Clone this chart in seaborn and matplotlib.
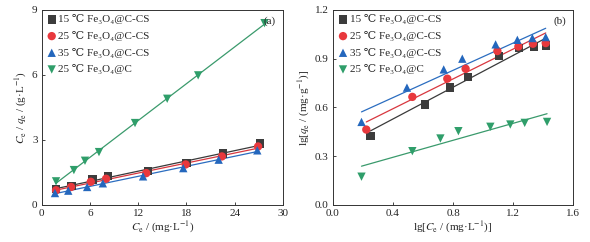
import numpy as np
import pandas as pd
import seaborn as sns
import matplotlib
matplotlib.use("Agg")
import matplotlib.pyplot as plt

sns.set_theme(style="ticks")
plt.rcParams['font.family'] = ['Liberation Serif', 'DejaVu Serif']
plt.rcParams['mathtext.fontset'] = 'stix'
plt.rcParams['xtick.direction'] = 'in'
plt.rcParams['ytick.direction'] = 'in'

series = ["15 ℃ Fe₃O₄@C-CS", "25 ℃ Fe₃O₄@C-CS",
          "35 ℃ Fe₃O₄@C-CS", "25 ℃ Fe₃O₄@C"]
colors = ["#3c3c3c", "#e8383d", "#2467bd", "#2f9e6a"]
line_colors = ["#3a3a3a", "#d8373f", "#2b6dc0", "#3a9a6c"]
markers = ["s", "o", "^", "v"]

# Panel (a): Ce vs Ce/qe
ce_15 = [1.78, 3.72, 6.33, 8.27, 13.2, 18.0, 22.5, 27.1]
cq_15 = [0.74, 0.89, 1.17, 1.35, 1.58, 1.94, 2.37, 2.83]
ce_25 = [1.78, 3.65, 6.1, 8.0, 13.0, 17.9, 22.4, 26.9]
cq_25 = [0.68, 0.83, 1.07, 1.21, 1.47, 1.87, 2.24, 2.70]
ce_35 = [1.65, 3.3, 5.65, 7.6, 12.6, 17.6, 22.0, 26.8]
cq_35 = [0.55, 0.66, 0.83, 1.00, 1.32, 1.70, 2.09, 2.52]
ce_c = [1.78, 4.0, 5.38, 7.12, 11.6, 15.6, 19.45, 27.7]
cq_c = [1.09, 1.61, 2.04, 2.44, 3.78, 4.90, 5.98, 8.39]

# Panel (b): lgCe vs lgqe
lgce_15 = [0.249, 0.613, 0.782, 0.90, 1.107, 1.24, 1.338, 1.422]
lgqe_15 = [0.423, 0.618, 0.722, 0.789, 0.918, 0.965, 0.971, 0.982]
lgce_25 = [0.222, 0.529, 0.762, 0.884, 1.096, 1.236, 1.333, 1.418]
lgqe_25 = [0.464, 0.665, 0.777, 0.838, 0.947, 0.975, 0.992, 0.996]
lgce_35 = [0.19, 0.493, 0.738, 0.862, 1.084, 1.229, 1.329, 1.418]
lgqe_35 = [0.511, 0.722, 0.834, 0.90, 0.988, 1.016, 1.027, 1.033]
lgce_c = [0.19, 0.529, 0.716, 0.836, 1.049, 1.182, 1.278, 1.427]
lgqe_c = [0.174, 0.331, 0.409, 0.454, 0.481, 0.495, 0.505, 0.511]

# Freundlich fit parameters (slope = 1/n, intercept = lgKf) as drawn
fit_slope = [0.488, 0.458, 0.419, 0.261]
fit_intercept = [0.334, 0.409, 0.493, 0.189]
fit_xmin = [0.249, 0.222, 0.19, 0.19]
fit_xmax = [1.422, 1.418, 1.418, 1.427]

xa = [ce_15, ce_25, ce_35, ce_c]
ya = [cq_15, cq_25, cq_35, cq_c]
xb = [lgce_15, lgce_25, lgce_35, lgce_c]
yb = [lgqe_15, lgqe_25, lgqe_35, lgqe_c]

fig = plt.figure(figsize=(5.9, 2.42), dpi=100)
ax1 = fig.add_axes([0.0707, 0.153, 0.409, 0.806])
ax2 = fig.add_axes([0.5644, 0.153, 0.4068, 0.806])

for i in range(4):
    df = pd.DataFrame({"x": xa[i], "y": ya[i]})
    sns.regplot(data=df, x="x", y="y", ax=ax1, ci=None, scatter=False,
                truncate=True, line_kws=dict(color=line_colors[i], lw=0.9))
for i in range(4):
    df = pd.DataFrame({"x": xa[i], "y": ya[i]})
    sns.scatterplot(data=df, x="x", y="y", ax=ax1, marker=markers[i],
                    color=colors[i], s=36, edgecolor="none", label=series[i],
                    zorder=3)

for i in range(4):
    xs = np.array([fit_xmin[i], fit_xmax[i]])
    ax2.plot(xs, fit_slope[i] * xs + fit_intercept[i], color=line_colors[i], lw=0.9)
for i in range(4):
    df = pd.DataFrame({"x": xb[i], "y": yb[i]})
    sns.scatterplot(data=df, x="x", y="y", ax=ax2, marker=markers[i],
                    color=colors[i], s=36, edgecolor="none", label=series[i],
                    zorder=3)

ax1.set_xlim(0, 30)
ax1.set_ylim(0, 9)
ax1.set_xticks([0, 6, 12, 18, 24, 30])
ax1.set_yticks([0, 3, 6, 9])
ax1.set_xlabel("$C_\\mathrm{e}$ / (mg·L$^{-1}$)", fontsize=8, labelpad=1)
ax1.set_ylabel("$C_\\mathrm{e}$ / $q_\\mathrm{e}$ / (g·L$^{-1}$)", fontsize=8, labelpad=2)
ax1.text(0.97, 0.94, "(a)", transform=ax1.transAxes, ha="right", va="center", fontsize=8)

ax2.set_xlim(0, 1.6)
ax2.set_ylim(0, 1.2)
ax2.set_xticks([0.0, 0.4, 0.8, 1.2, 1.6])
ax2.set_yticks([0.0, 0.3, 0.6, 0.9, 1.2])
ax2.xaxis.set_major_formatter(matplotlib.ticker.FormatStrFormatter('%.1f'))
ax2.yaxis.set_major_formatter(matplotlib.ticker.FormatStrFormatter('%.1f'))
ax2.set_xlabel("lg[$C_\\mathrm{e}$ / (mg·L$^{-1}$)]", fontsize=8, labelpad=1)
ax2.set_ylabel("lg[$q_\\mathrm{e}$ / (mg·g$^{-1}$)]", fontsize=8, labelpad=2)
ax2.text(0.97, 0.94, "(b)", transform=ax2.transAxes, ha="right", va="center", fontsize=8)

for ax in (ax1, ax2):
    ax.tick_params(axis="both", labelsize=8, length=2.5, width=0.6,
                   top=False, right=False)
    ax.tick_params(axis="x", pad=3)
    ax.tick_params(axis="y", pad=3)
    for sp in ax.spines.values():
        sp.set_visible(True)
        sp.set_linewidth(0.7)
        sp.set_color("#333333")
    leg = ax.legend(loc="upper left", frameon=False, fontsize=8,
                    handletextpad=0.1, borderaxespad=0.2, labelspacing=0.6,
                    handlelength=1.0, borderpad=0.2)

fig.savefig("out.png", dpi=100)
